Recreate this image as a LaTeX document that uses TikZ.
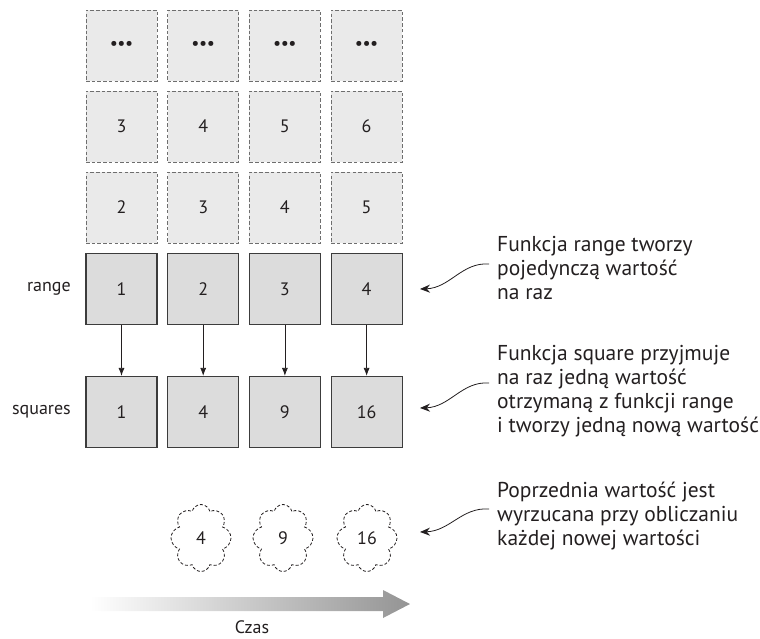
\documentclass[tikz,border=0pt]{standalone}
\usepackage{fontspec}
\setmainfont{PT Sans}
\usetikzlibrary{arrows.meta,shapes.symbols}
\definecolor{txt}{HTML}{231F20}
\definecolor{lightfill}{HTML}{EAEAEA}
\definecolor{darkfill}{HTML}{DCDCDC}
\definecolor{dashline}{HTML}{6E6E6E}
\definecolor{boxline}{HTML}{3C3C3C}
\tikzset{
  ghostbox/.style={draw=dashline, fill=lightfill, dashed, dash pattern=on 3.5pt off 2.2pt, line width=0.9pt,
    minimum width=71pt, minimum height=71pt, inner sep=0pt, text=txt, font=\fontsize{18}{20}\selectfont},
  valbox/.style={draw=boxline, fill=darkfill, line width=1.2pt,
    minimum width=71pt, minimum height=71pt, inner sep=0pt, text=txt, font=\fontsize{18}{20}\selectfont},
  gone/.style={cloud, cloud puffs=8, aspect=0.85, draw=txt, dashed, dash pattern=on 3pt off 2pt, line width=0.8pt,
    minimum width=60pt, minimum height=67pt, inner sep=0pt, text=txt, font=\fontsize{18}{20}\selectfont},
  rowlabel/.style={anchor=east, inner sep=0pt, text=txt, font=\fontsize{18}{20}\selectfont},
  note/.style={anchor=west, align=left, inner sep=0pt, text=txt, font=\fontsize{21.5}{24}\selectfont},
  flow/.style={draw=txt, line width=0.8pt, -{Latex[length=8pt,width=6pt]}},
  pointer/.style={draw=txt, line width=0.8pt, -{Stealth[length=10pt,width=8pt]}},
}
\begin{document}
\begin{tikzpicture}[x=1pt,y=-1pt]
\useasboundingbox (0,0) rectangle (760,638);
% columns
\foreach \i/\x in {1/121.5,2/203.2,3/284.9,4/366.6}{
  \node[ghostbox] (d\i) at (\x,45.5) {\raisebox{1pt}{\textbullet\kern-0.5pt\textbullet\kern-0.5pt\textbullet}};
}
\foreach \i/\x/\v in {1/121.5/3,2/203.2/4,3/284.9/5,4/366.6/6}{
  \node[ghostbox] (c\i) at (\x,126.5) {\v};
}
\foreach \i/\x/\v in {1/121.5/2,2/203.2/3,3/284.9/4,4/366.6/5}{
  \node[ghostbox] (b\i) at (\x,207.5) {\v};
}
\foreach \i/\x/\v in {1/121.5/1,2/203.2/2,3/284.9/3,4/366.6/4}{
  \node[valbox] (r\i) at (\x,289) {\v};
}
\foreach \i/\x/\v in {1/121.5/1,2/203.2/4,3/284.9/9,4/366.6/16}{
  \node[valbox] (s\i) at (\x,412) {\v};
  \draw[flow] (r\i) -- (s\i);
}
\node[rowlabel] (lr) at (71,289) {range};
\node[rowlabel] (ls) at (71,412) {squares};
% discarded values
\node[gone] (g1) at (201,538) {4};
\node[gone] (g2) at (283,538) {9};
\node[gone] (g3) at (367,538) {16};
% notes
\node[note] (n1) at (497,268) {Funkcja range tworzy\\pojedynczą wartość\\na raz};
\node[note] (n2) at (497,391) {Funkcja square przyjmuje\\na raz jedną wartość\\otrzymaną z funkcji range\\i tworzy jedną nową wartość};
\node[note] (n3) at (497,516) {Poprzednia wartość jest\\wyrzucana przy obliczaniu\\każdej nowej wartości};
\coordinate (p1s) at (489,264); \coordinate (p1e) at (420,289);
\coordinate (p2s) at (489,383); \coordinate (p2e) at (420,408);
\coordinate (p3s) at (489,509); \coordinate (p3e) at (420,532);
\draw[pointer] (p1s) .. controls (462,262) and (450,288) .. (p1e);
\draw[pointer] (p2s) .. controls (462,381) and (450,407) .. (p2e);
\draw[pointer] (p3s) .. controls (462,507) and (450,531) .. (p3e);
% time arrow
\shade[left color=white, right color=black!42]
  (90,597) -- (383,597) -- (383,590) -- (410,604) -- (383,618) -- (383,611) -- (90,611) -- cycle;
\node[text=txt, font=\fontsize{18}{20}\selectfont, inner sep=0pt, anchor=base] (czas) at (252,633) {Czas};
\end{tikzpicture}
\end{document}
